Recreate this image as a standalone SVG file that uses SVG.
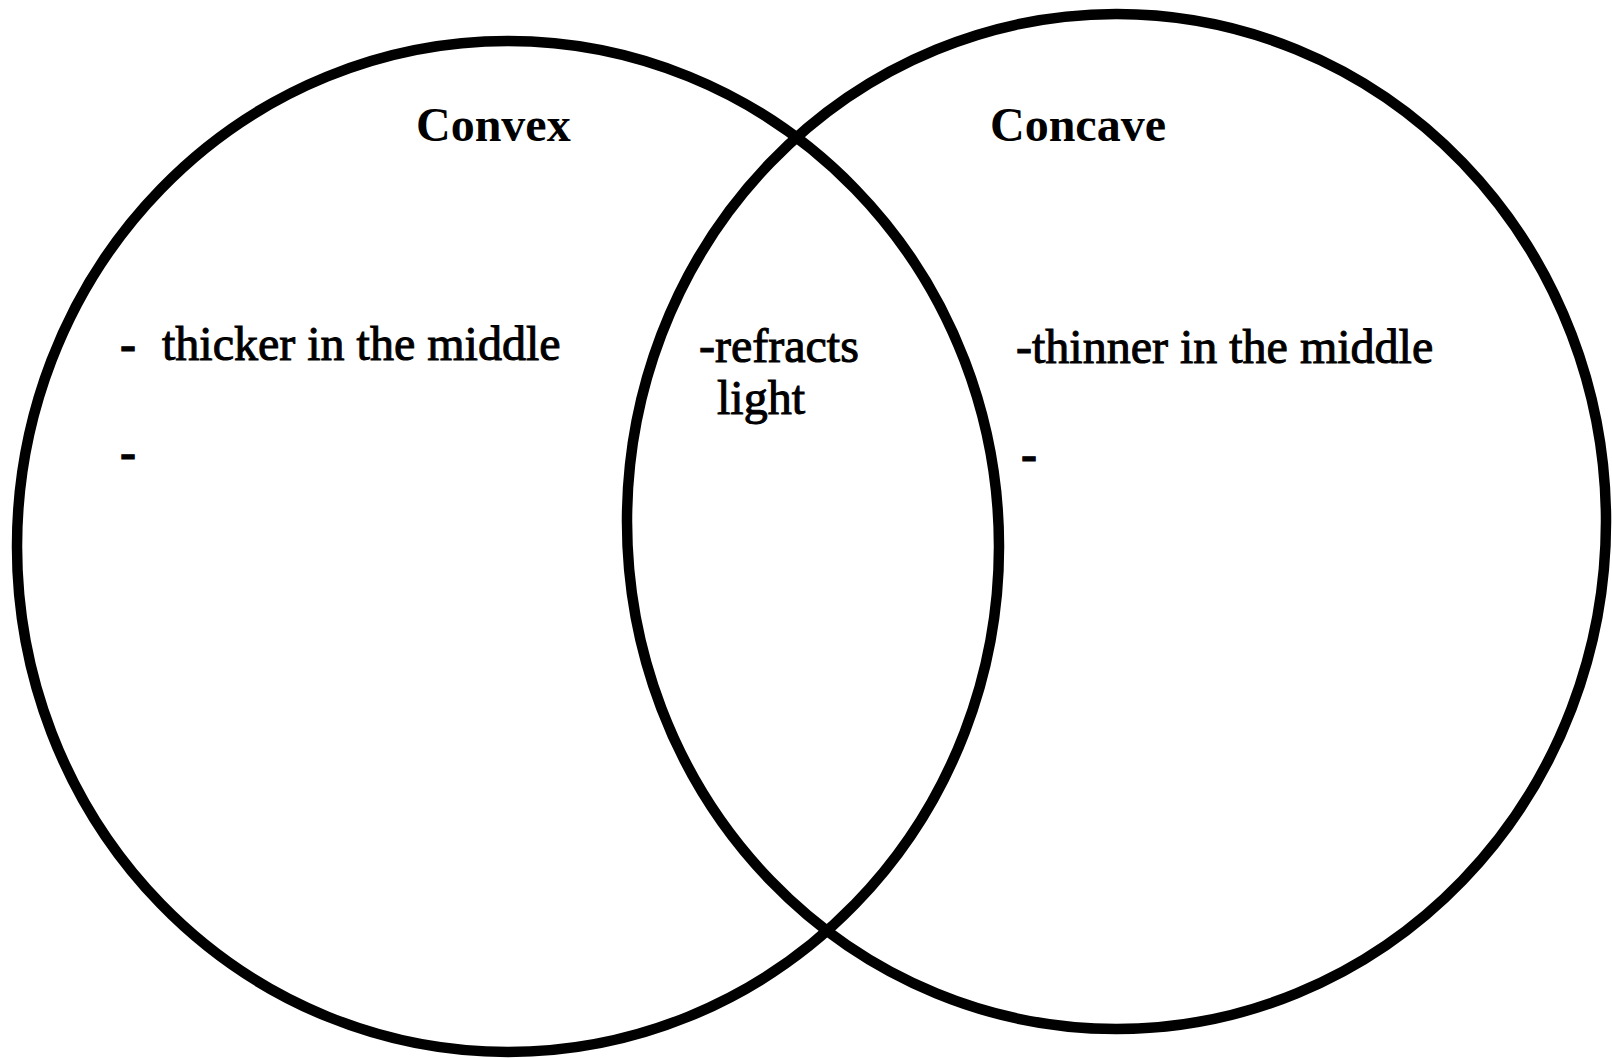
<svg xmlns="http://www.w3.org/2000/svg" width="1612" height="1058" viewBox="0 0 1612 1058">
<style>
.ring{fill:none;stroke:#000;stroke-width:10.5}
.title{font-family:"Liberation Serif","Times New Roman",serif;font-weight:bold;font-size:48px;fill:#000}
.item{font-family:"Liberation Serif","Times New Roman",serif;font-size:48px;fill:#000;stroke:#000;stroke-width:1}
.dash{font-weight:bold}
</style>
<rect width="1612" height="1058" fill="#fff"/>
<g id="connectors"></g>
<g id="convex">
<ellipse class="ring" cx="508" cy="546.5" rx="491" ry="505.5"/>
<text class="title" x="416" y="141">Convex</text>
<text class="item dash" x="120" y="360">-</text>
<text class="item" x="162" y="360">thicker in the middle</text>
<text class="item dash" x="120" y="468">-</text>
</g>
<g id="concave">
<ellipse class="ring" cx="1116.5" cy="521.5" rx="489.5" ry="507.5"/>
<text class="title" x="990" y="141">Concave</text>
<text class="item" x="1016" y="363">-thinner in the middle</text>
<text class="item dash" x="1021" y="470">-</text>
</g>
<g id="both">
<text class="item" x="699" y="362">-refracts</text>
<text class="item" x="717" y="414">light</text>
</g>
</svg>
